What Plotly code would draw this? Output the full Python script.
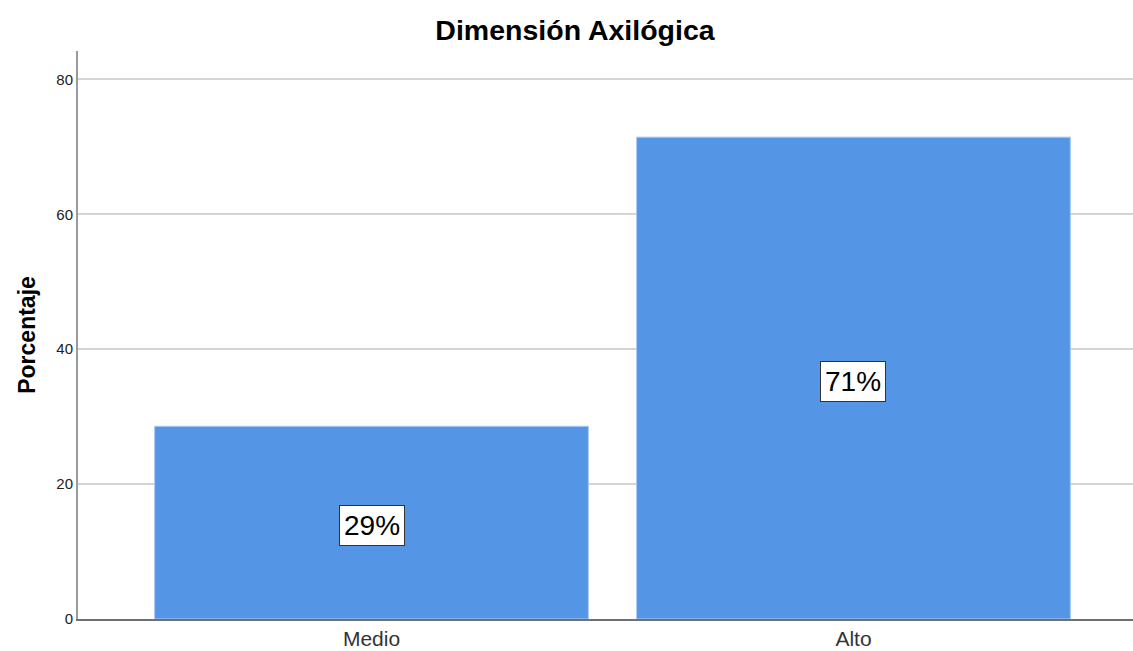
import plotly.graph_objects as go

categories = ["Medio", "Alto"]
percentages = [28.57, 71.43]
labels = ["29%", "71%"]
y_ticks = [0, 20, 40, 60, 80]

bar_color = "#5595e5"

fig = go.Figure()
fig.add_trace(go.Bar(
    x=categories,
    y=percentages,
    width=0.9,
    marker=dict(color=bar_color, line=dict(color="#a9c9f1", width=1)),
    hoverinfo="x+y",
    showlegend=False,
))

for cat, val, lab in zip(categories, percentages, labels):
    fig.add_annotation(
        x=cat, y=val / 2, text=lab, showarrow=False,
        font=dict(family="Liberation Sans, Arial, sans-serif", size=28, color="#000000"),
        bgcolor="#ffffff", bordercolor="#333333", borderwidth=1, borderpad=4,
        yshift=-3,
    )

fig.update_layout(
    width=1133, height=651,
    margin=dict(l=78, r=0, t=51, b=32),
    paper_bgcolor="#ffffff", plot_bgcolor="#ffffff",
    font=dict(family="Liberation Sans, Arial, sans-serif", color="#222222"),
    title=dict(
        text="<b>Dimensión Axilógica</b>",
        x=0.5075, xanchor="center", y=1 - 30 / 651, yanchor="middle", yref="container",
        font=dict(size=28.5, color="#000000"),
    ),
    bargap=0.1,
)

fig.update_xaxes(
    type="category",
    range=[-0.609, 1.58],
    showgrid=False,
    showline=True, linecolor="#707070", linewidth=2,
    ticks="", tickfont=dict(size=21, color="#333333"),
    zeroline=False,
)

fig.update_yaxes(
    range=[0, 84.2],
    tickvals=y_ticks,
    showgrid=True, gridcolor="#d4d4d4", gridwidth=2,
    showline=True, linecolor="#9a9a9a", linewidth=2,
    ticks="", tickfont=dict(size=15, color="#222222"),
    zeroline=False,
    title=dict(text="<b>Porcentaje</b>", font=dict(size=23, color="#000000"), standoff=14),
)

fig.write_html("out.html", config={"displayModeBar": False})

with open("out.html", "r", encoding="utf-8") as f:
    html = f.read()
html = html.replace("<body>", '<body style="margin:0;padding:0;overflow:hidden">', 1)
with open("out.html", "w", encoding="utf-8") as f:
    f.write(html)
